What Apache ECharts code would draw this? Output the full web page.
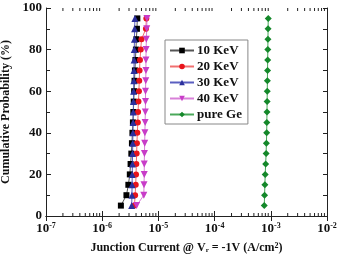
<!DOCTYPE html>
<html>
<head>
<meta charset="utf-8">
<script src="https://cdn.jsdelivr.net/npm/echarts@6/dist/echarts.min.js"></script>
</head>
<body style="margin:0">
<div id="main" style="width:338px;height:256px;"></div>
<script type="text/javascript">
// cumulative probability (%) for each point
var probability = [5, 10, 15, 20, 25, 30, 35, 40, 45, 50, 55, 60, 65, 70, 75, 80, 85, 90, 95];
// junction current (A/cm2)
var kev10 = [2.15e-6, 2.7e-6, 2.92e-6, 3.1e-6, 3.2e-6, 3.3e-6, 3.38e-6, 3.45e-6, 3.52e-6, 3.58e-6, 3.64e-6, 3.7e-6, 3.76e-6, 3.82e-6, 3.9e-6, 3.98e-6, 4.06e-6, 4.15e-6, 4.22e-6];
var kev20 = [3.75e-6, 3.85e-6, 3.95e-6, 4.0e-6, 4.05e-6, 4.1e-6, 4.15e-6, 4.22e-6, 4.3e-6, 4.35e-6, 4.42e-6, 4.5e-6, 4.56e-6, 4.62e-6, 4.7e-6, 4.85e-6, 5.0e-6, 6.0e-6, 6.1e-6];
var kev30 = [3.35e-6, 3.38e-6, 3.4e-6, 3.42e-6, 3.45e-6, 3.47e-6, 3.5e-6, 3.52e-6, 3.55e-6, 3.57e-6, 3.6e-6, 3.62e-6, 3.65e-6, 3.67e-6, 3.7e-6, 3.72e-6, 3.75e-6, 3.78e-6, 3.82e-6];
var kev40 = [4.1e-6, 5.5e-6, 5.55e-6, 5.6e-6, 5.6e-6, 5.65e-6, 5.7e-6, 5.75e-6, 5.8e-6, 5.85e-6, 5.9e-6, 5.9e-6, 5.95e-6, 6.0e-6, 6.0e-6, 6.05e-6, 6.1e-6, 6.2e-6, 6.25e-6];
var pureGe = [7.65e-4, 7.75e-4, 7.85e-4, 7.95e-4, 8.1e-4, 8.25e-4, 8.35e-4, 8.45e-4, 8.5e-4, 8.55e-4, 8.6e-4, 8.65e-4, 8.7e-4, 8.75e-4, 8.8e-4, 8.85e-4, 8.9e-4, 8.95e-4, 9.0e-4];
var seriesNames = ['10 KeV', '20 KeV', '30 KeV', '40 KeV', 'pure Ge'];

var font = '"Liberation Serif", "Times New Roman", serif';
var myChart = echarts.init(document.getElementById('main'));

function pairs(xs) {
    return xs.map(function (x, i) { return [x, probability[i]]; });
}

function makeSeries(name, data, symbol, size, color, lineColor, rotate) {
    return {
        name: name,
        type: 'line',
        data: pairs(data),
        symbol: symbol,
        symbolSize: size,
        symbolRotate: rotate || 0,
        itemStyle: { color: color },
        lineStyle: { color: lineColor, width: 1 },
        z: 3
    };
}

// log minor ticks at 2..9 x 10^k (echarts spaces log minor ticks evenly)
var minorTicks = [];
for (var k = -7; k < -2; k++) {
    for (var m = 2; m <= 9; m++) minorTicks.push([m * Math.pow(10, k), 0]);
}

var supStyle = { fontSize: 8, fontWeight: 'bold', fontFamily: font, color: '#111', verticalAlign: 'top', lineHeight: 8, padding: [0, 0, 7, 0] };

var option = {
    backgroundColor: '#fff',
    animation: false,
    grid: { left: 46, right: 11, top: 8, bottom: 40, outerBoundsMode: 'none' },
    legend: {
        orient: 'vertical',
        left: 165,
        top: 40,
        width: 85,
        padding: [4, 6, 3, 4],
        borderColor: '#888',
        borderWidth: 1,
        itemWidth: 24,
        itemHeight: 7,
        itemGap: 3,
        data: seriesNames,
        textStyle: { fontFamily: font, fontWeight: 'bold', fontSize: 13, color: '#111', padding: [0, 0, 0, -2] }
    },
    xAxis: [{
        type: 'log',
        logBase: 10,
        min: 1e-7,
        max: 1e-2,
        name: 'Junction Current @ V{sub|r} = -1V (A/cm{sup|2})',
        nameLocation: 'middle',
        nameGap: 26,
        nameTextStyle: {
            fontFamily: font, fontWeight: 'bold', fontSize: 12, color: '#111',
            rich: {
                sub: { fontSize: 7, fontWeight: 'bold', fontFamily: font, color: '#111', verticalAlign: 'bottom', padding: [4, 0, 0, 0] },
                sup: supStyle
            }
        },
        axisLine: { lineStyle: { color: '#222', width: 1 } },
        axisTick: { inside: true, length: 5, lineStyle: { color: '#222' } },
        splitLine: { show: false },
        axisLabel: {
            margin: 6,
            formatter: function (v) {
                var e = Math.round(Math.log(v) / Math.LN10);
                return '{b|10}{sup|' + e + '}';
            },
            rich: {
                b: { fontSize: 13, fontWeight: 'bold', fontFamily: font, color: '#111' },
                sup: supStyle
            }
        }
    }, {
        type: 'log',
        logBase: 10,
        min: 1e-7,
        max: 1e-2,
        position: 'top',
        axisLine: { lineStyle: { color: '#222', width: 1 } },
        axisTick: { inside: true, length: 5, lineStyle: { color: '#222' } },
        splitLine: { show: false },
        axisLabel: { show: false }
    }],
    yAxis: [{
        type: 'value',
        min: 0,
        max: 100,
        interval: 20,
        name: 'Cumulative Probability (%)',
        nameLocation: 'middle',
        nameGap: 30,
        nameTextStyle: { fontFamily: font, fontWeight: 'bold', fontSize: 12, color: '#111' },
        axisLine: { show: true, lineStyle: { color: '#222', width: 1 } },
        axisTick: { inside: true, length: 5, lineStyle: { color: '#222' } },
        minorTick: { show: true, splitNumber: 2, length: 4, lineStyle: { color: '#222' } },
        splitLine: { show: false },
        axisLabel: { fontFamily: font, fontWeight: 'bold', fontSize: 13, color: '#111', margin: 4 }
    }, {
        type: 'value',
        min: 0,
        max: 100,
        interval: 10,
        position: 'right',
        axisLine: { show: true, lineStyle: { color: '#222', width: 1 } },
        axisTick: { inside: true, length: 4, lineStyle: { color: '#222' } },
        splitLine: { show: false },
        axisLabel: { show: false }
    }],
    series: [
        makeSeries(seriesNames[0], kev10, 'rect', 6, '#000', '#555'),
        makeSeries(seriesNames[1], kev20, 'circle', 6, '#e8141b', '#f07070'),
        makeSeries(seriesNames[2], kev30, 'triangle', 7, '#2b2f9c', '#5a5fc0'),
        makeSeries(seriesNames[3], kev40, 'triangle', 7, '#c83cc8', '#d880d8', 180),
        makeSeries(seriesNames[4], pureGe, 'diamond', 7, '#14882a', '#4aa85a'),
        {
            type: 'custom',
            silent: true,
            data: minorTicks,
            encode: { x: 0, y: 1 },
            renderItem: function (params, api) {
                var bottom = api.coord([api.value(0), 0]);
                var top = api.coord([api.value(0), 100]);
                var st = { stroke: '#222', lineWidth: 1 };
                return {
                    type: 'group',
                    children: [
                        { type: 'line', shape: { x1: bottom[0], y1: bottom[1], x2: bottom[0], y2: bottom[1] - 3 }, style: st },
                        { type: 'line', shape: { x1: top[0], y1: top[1], x2: top[0], y2: top[1] + 3 }, style: st }
                    ]
                };
            }
        }
    ]
};

myChart.setOption(option);
</script>
</body>
</html>
